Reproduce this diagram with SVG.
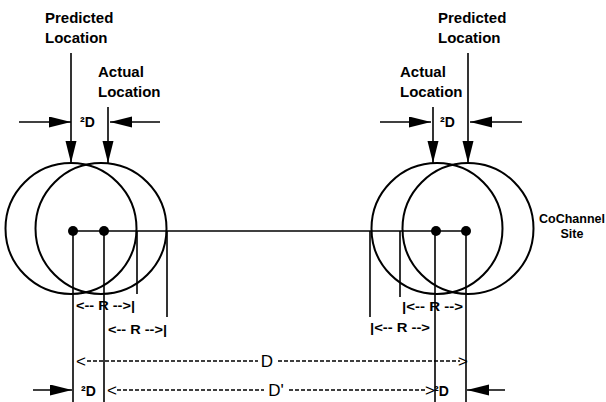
<svg xmlns="http://www.w3.org/2000/svg" width="606" height="402" viewBox="0 0 606 402">
<style>
.t{font-family:"Liberation Sans",Arial,sans-serif;font-weight:bold;fill:#000}
.lbl{font-size:15px}
.sm{font-size:12px}
.dd{font-size:17px;font-weight:normal}
.ln{stroke:#000;stroke-width:1.6;fill:none}
.cir{stroke:#000;stroke-width:2;fill:none}
.dash{stroke:#000;stroke-width:1.5;stroke-dasharray:4 2;fill:none}
.arr{stroke:#000;stroke-width:1.6;fill:none;marker-end:url(#ah)}
</style>
<defs>
<marker id="ah" markerUnits="userSpaceOnUse" markerWidth="24" markerHeight="12" refX="22" refY="5.5" orient="auto">
<path d="M0,0 L22,5.5 L0,11 z" fill="#000"/>
</marker>
</defs>
<rect width="606" height="402" fill="#fff"/>

<g id="left-site">
<circle class="cir" cx="71" cy="228.5" r="65.5"/>
<circle class="cir" cx="101" cy="228.5" r="65.5"/>
<circle cx="73" cy="231" r="5"/>
<circle cx="104" cy="231" r="5"/>
</g>

<g id="right-site">
<circle class="cir" cx="437" cy="228.5" r="65.5"/>
<circle class="cir" cx="468" cy="228.5" r="65.5"/>
<circle cx="436" cy="231" r="5"/>
<circle cx="466" cy="231" r="5"/>
</g>

<g id="labels">
<text class="t lbl" x="45" y="23">Predicted</text>
<text class="t lbl" x="45" y="43">Location</text>
<text class="t lbl" x="98" y="77">Actual</text>
<text class="t lbl" x="98" y="97">Location</text>
<text class="t lbl" x="438" y="23">Predicted</text>
<text class="t lbl" x="438" y="43">Location</text>
<text class="t lbl" x="400" y="77">Actual</text>
<text class="t lbl" x="400" y="97">Location</text>
<text class="t" font-size="14" x="80" y="127">²D</text>
<text class="t" font-size="14" x="440" y="127">²D</text>
<text class="t" font-size="12.5" x="572" y="223" text-anchor="middle">CoChannel</text>
<text class="t" font-size="12.5" x="572" y="238" text-anchor="middle">Site</text>
<text class="t sm" x="76" y="310" textLength="59" lengthAdjust="spacingAndGlyphs">&lt;-- R --&gt;|</text>
<text class="t sm" x="108" y="334" textLength="59" lengthAdjust="spacingAndGlyphs">&lt;-- R --&gt;|</text>
<text class="t sm" x="402" y="311" textLength="61" lengthAdjust="spacingAndGlyphs">|&lt;-- R --&gt;</text>
<text class="t sm" x="370" y="332" textLength="60" lengthAdjust="spacingAndGlyphs">|&lt;-- R --&gt;</text>
<text class="t dd" x="76" y="367">&lt;</text>
<text class="t dd" x="267" y="367" text-anchor="middle">D</text>
<text class="t dd" x="468" y="367" text-anchor="end">&gt;</text>
<text class="t" font-size="14" x="81" y="396">²D</text>
<text class="t dd" x="107" y="396">&lt;</text>
<text class="t dd" x="276" y="396" text-anchor="middle">D'</text>
<text class="t dd" x="425" y="396">&gt;</text>
<text class="t" font-size="14" x="434" y="396">²D</text>
</g>

<g id="connectors">
<line class="ln" x1="73" y1="231" x2="466" y2="231"/>
<line class="ln" x1="73" y1="231" x2="73" y2="402"/>
<line class="ln" x1="104" y1="231" x2="104" y2="402"/>
<line class="ln" x1="137" y1="231" x2="137" y2="294"/>
<line class="ln" x1="167" y1="231" x2="167" y2="317"/>
<line class="ln" x1="370" y1="231" x2="370" y2="317"/>
<line class="ln" x1="400" y1="231" x2="400" y2="297"/>
<line class="ln" x1="435" y1="231" x2="435" y2="402"/>
<line class="ln" x1="466" y1="231" x2="466" y2="402"/>
<line class="arr" x1="71" y1="53" x2="71" y2="163"/>
<line class="arr" x1="108" y1="107" x2="108" y2="163"/>
<line class="arr" x1="19" y1="122" x2="71" y2="122"/>
<line class="arr" x1="160" y1="122" x2="110" y2="122"/>
<line class="arr" x1="468" y1="53" x2="468" y2="163"/>
<line class="arr" x1="433" y1="107" x2="433" y2="163"/>
<line class="arr" x1="380" y1="122" x2="431" y2="122"/>
<line class="arr" x1="522" y1="122" x2="470" y2="122"/>
<line class="dash" x1="87" y1="361" x2="258" y2="361"/>
<line class="dash" x1="278" y1="361" x2="460" y2="361"/>
<line class="dash" x1="117" y1="390" x2="264" y2="390"/>
<line class="dash" x1="289" y1="390" x2="426" y2="390"/>
<line class="arr" x1="33" y1="390" x2="72" y2="390"/>
<line class="arr" x1="505" y1="390" x2="467" y2="390"/>
</g>
</svg>
